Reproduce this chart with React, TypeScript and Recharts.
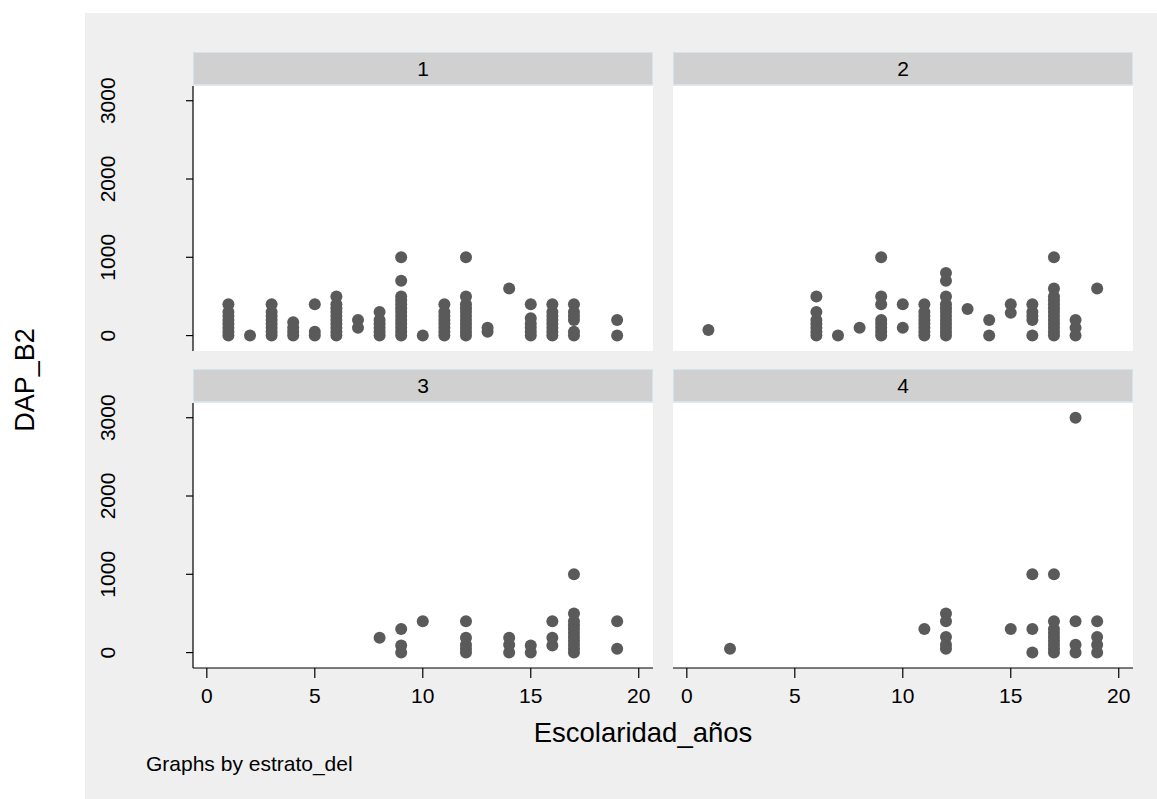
import { ScatterChart, Scatter, XAxis, YAxis, CartesianGrid } from "recharts";

// Escolaridad (años) -> DAP_B2 values observed at that schooling level, per estrato
const estrato1: [number, number[]][] = [
  [1, [0, 50, 100, 150, 200, 250, 300, 400]],
  [2, [0]],
  [3, [0, 50, 100, 150, 200, 250, 300, 400]],
  [4, [0, 50, 100, 170]],
  [5, [0, 50, 400]],
  [6, [0, 50, 100, 150, 200, 250, 300, 350, 400, 500]],
  [7, [100, 200]],
  [8, [0, 50, 100, 150, 200, 300]],
  [9, [0, 50, 100, 150, 200, 250, 300, 350, 400, 450, 500, 700, 1000]],
  [10, [0]],
  [11, [0, 50, 100, 150, 200, 250, 300, 400]],
  [12, [0, 50, 100, 150, 200, 250, 300, 350, 400, 500, 1000]],
  [13, [50, 100]],
  [14, [600]],
  [15, [0, 50, 100, 150, 220, 400]],
  [16, [0, 50, 100, 150, 200, 250, 300, 400]],
  [17, [0, 50, 200, 250, 300, 400]],
  [19, [0, 200]],
];

const estrato2: [number, number[]][] = [
  [1, [70]],
  [6, [0, 50, 100, 150, 200, 300, 500]],
  [7, [0]],
  [8, [100]],
  [9, [0, 50, 100, 150, 200, 400, 500, 1000]],
  [10, [100, 400]],
  [11, [0, 50, 100, 150, 200, 250, 300, 400]],
  [12, [0, 50, 100, 150, 200, 250, 300, 350, 400, 500, 700, 800]],
  [13, [340]],
  [14, [0, 200]],
  [15, [290, 400]],
  [16, [0, 200, 250, 300, 400]],
  [17, [0, 50, 100, 150, 200, 250, 300, 350, 400, 450, 500, 600, 1000]],
  [18, [0, 100, 200]],
  [19, [600]],
];

const estrato3: [number, number[]][] = [
  [8, [190]],
  [9, [0, 90, 300]],
  [10, [400]],
  [12, [0, 50, 100, 190, 400]],
  [14, [0, 100, 190]],
  [15, [0, 90]],
  [16, [90, 190, 400]],
  [17, [0, 50, 100, 150, 200, 250, 300, 350, 400, 500, 1000]],
  [19, [50, 400]],
];

const estrato4: [number, number[]][] = [
  [2, [50]],
  [11, [300]],
  [12, [50, 100, 200, 400, 500]],
  [15, [300]],
  [16, [0, 300, 1000]],
  [17, [0, 50, 100, 150, 200, 250, 300, 400, 1000]],
  [18, [0, 100, 400, 3000]],
  [19, [0, 100, 200, 400]],
];

const xTicks = [0, 5, 10, 15, 20];
const yTicks = [0, 1000, 2000, 3000];

const FONT = '"Liberation Sans", Arial, Helvetica, sans-serif';
const DOT = "#5a5a5a";
const BG = "#efefef";
const PAD = 30; // room above the plot so the rotated 3000 label is not clipped

const toPoints = (cols: [number, number[]][]) =>
  cols.flatMap(([x, ys]) => ys.map((y) => ({ x, y })));

const Dot = (p: any) => <circle cx={p.cx} cy={p.cy} r={6} fill={DOT} />;

const YTick = (p: any) => (
  <text
    x={p.x}
    y={p.y}
    transform={`rotate(-90, ${p.x}, ${p.y})`}
    textAnchor="middle"
    dominantBaseline="central"
    fontSize={21}
    fontFamily={FONT}
    fill="#000"
  >
    {p.payload.value}
  </text>
);

const XTick = (p: any) => (
  <text
    x={p.x}
    y={p.y + 23}
    textAnchor="middle"
    fontSize={21}
    fontFamily={FONT}
    fill="#000"
  >
    {p.payload.value}
  </text>
);

type PanelProps = {
  data: [number, number[]][];
  left: number;
  top: number;
  showY: boolean;
  showX: boolean;
};

function Panel({ data, left, top, showY, showX }: PanelProps) {
  const yWidth = showY ? 108 : 0;
  const width = 460 + yWidth;
  const height = PAD + 265 + (showX ? 40 : 0);
  return (
    <div style={{ position: "absolute", left: left - yWidth, top: top - PAD }}>
      <ScatterChart
        width={width}
        height={height}
        margin={{ top: PAD, right: 0, bottom: 0, left: 0 }}
      >
        <rect x={yWidth} y={PAD} width={460} height={265} fill="#fff" />
        <CartesianGrid vertical={false} stroke="#e4e4e4" strokeWidth={1.5} />
        <XAxis
          type="number"
          dataKey="x"
          domain={[-0.64, 20.66]}
          ticks={xTicks}
          hide={!showX}
          height={40}
          tickSize={10}
          tickMargin={2}
          tick={<XTick />}
          axisLine={{ stroke: "#000", strokeWidth: 1.2 }}
          tickLine={{ stroke: "#000", strokeWidth: 1.2 }}
        />
        <YAxis
          type="number"
          dataKey="y"
          domain={[-197, 3188]}
          ticks={yTicks}
          hide={!showY}
          width={108}
          tickSize={7}
          tickMargin={78.5}
          tick={<YTick />}
          axisLine={{ stroke: "#000", strokeWidth: 1.2 }}
          tickLine={{ stroke: "#000", strokeWidth: 1.2 }}
        />
        <Scatter data={toPoints(data)} shape={Dot} isAnimationActive={false} />
      </ScatterChart>
    </div>
  );
}

function Strip({ label, left, top }: { label: string; left: number; top: number }) {
  return (
    <div
      style={{
        position: "absolute",
        left,
        top,
        width: 460,
        height: 33,
        boxSizing: "border-box",
        background: "#d0d0d0",
        border: "1px solid #d5e3ea",
        fontFamily: FONT,
        fontSize: 21,
        lineHeight: "31px",
        textAlign: "center",
        color: "#000",
      }}
    >
      {label}
    </div>
  );
}

export default function App() {
  return (
    <div
      style={{
        position: "absolute",
        left: 0,
        top: 0,
        width: 1157,
        height: 799,
        background: "#fff",
        overflow: "hidden",
      }}
    >
      <div
        style={{
          position: "absolute",
          left: 85,
          top: 13,
          right: 0,
          bottom: 0,
          background: BG,
        }}
      />
      <Strip label="1" left={193} top={52} />
      <Strip label="2" left={673} top={52} />
      <Strip label="3" left={193} top={369} />
      <Strip label="4" left={673} top={369} />
      <Panel data={estrato1} left={193} top={86} showY showX={false} />
      <Panel data={estrato2} left={673} top={86} showY={false} showX={false} />
      <Panel data={estrato3} left={193} top={403} showY showX />
      <Panel data={estrato4} left={673} top={403} showY={false} showX />
      <svg
        width={1157}
        height={799}
        style={{ position: "absolute", left: 0, top: 0, pointerEvents: "none" }}
      >
        <text
          x={643}
          y={742}
          textAnchor="middle"
          fontSize={27.5}
          fontFamily={FONT}
          fill="#000"
        >
          Escolaridad_años
        </text>
        <text
          x={25}
          y={380}
          transform="rotate(-90, 25, 380)"
          textAnchor="middle"
          dominantBaseline="central"
          fontSize={27}
          fontFamily={FONT}
          fill="#000"
        >
          DAP_B2
        </text>
        <text x={146} y={771} fontSize={21} fontFamily={FONT} fill="#000">
          Graphs by estrato_del
        </text>
      </svg>
    </div>
  );
}
